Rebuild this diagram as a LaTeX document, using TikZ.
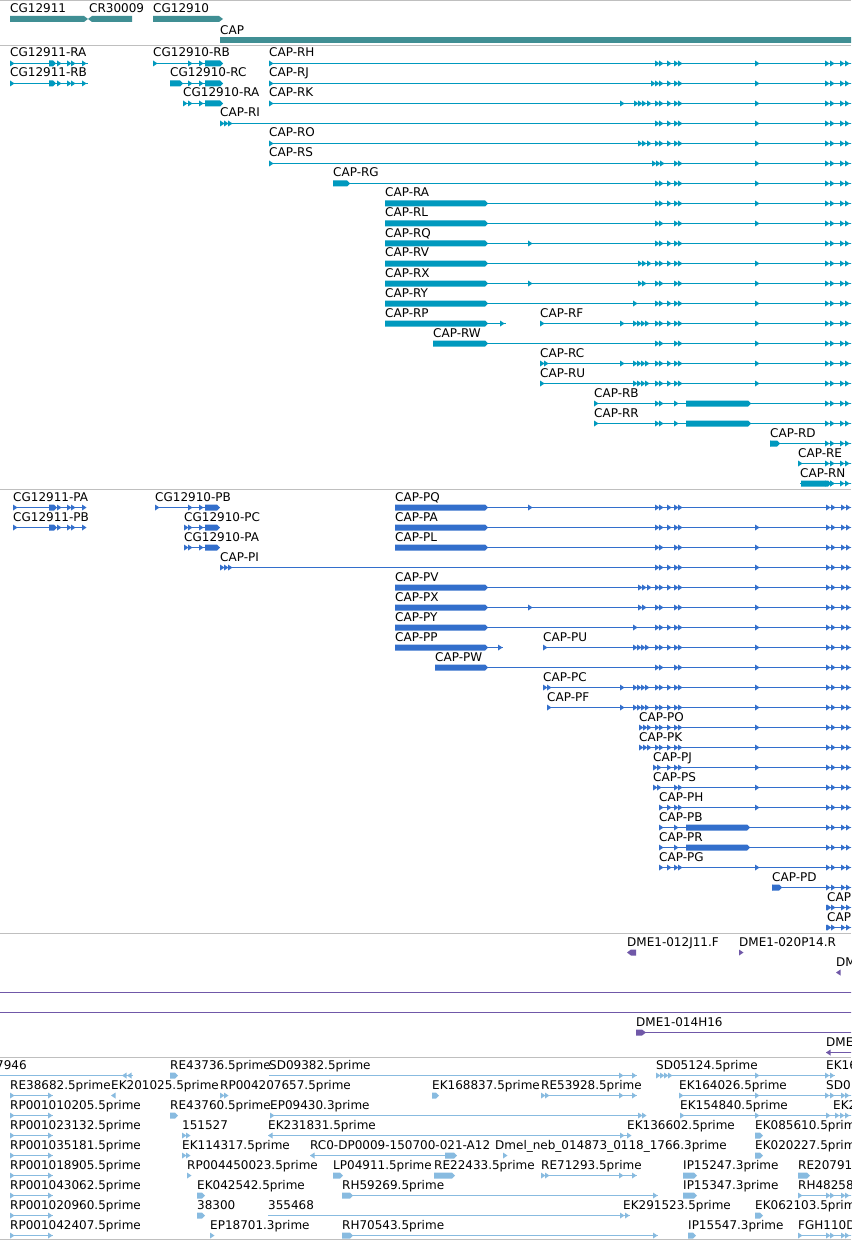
\documentclass[tikz,border=0pt]{standalone}
\usepackage{fontspec}
\setmainfont{DejaVu Sans}
\definecolor{genecol}{RGB}{64,143,148}
\definecolor{rcol}{RGB}{0,153,190}
\definecolor{pcol}{RGB}{51,111,204}
\definecolor{dmecol}{RGB}{112,88,168}
\definecolor{estcol}{RGB}{136,187,224}

\begin{document}
\begin{tikzpicture}[x=1pt,y=-1pt,
    lbl/.style={anchor=base west,inner sep=0pt,font=\fontsize{12}{14}\selectfont},
    track/.style={draw=gray!50,line width=1pt},
    fwd/.pic={\fill (0,-3) -- (4.5,0) -- (0,3) -- cycle;},
    rev/.pic={\fill (0,0) -- (4.5,-3) -- (4.5,3) -- cycle;}]
    \fill[white] (0,0) rectangle (851,1241);
    \clip (0,0) rectangle (851,1241);
    % Track borders
    \foreach \y in {0.5,45.5,489.5,933.5,1057.5,1239.5}
      \draw[track] (0,\y) -- (851,\y);
    % Genes
    \node[lbl] (g11) at (10,12.7) {CG12911};
    \node[lbl] (g09) at (89,12.7) {CR30009};
    \node[lbl] (g10) at (153,12.7) {CG12910};
    \node[lbl] (gcap) at (220,34.5) {CAP};
    \fill[genecol] (10,16) -- (84,16) -- (88,19) -- (84,22) -- (10,22) -- cycle;
    \fill[genecol] (88,19) -- (92,16) -- (132,16) -- (132,22) -- (92,22) -- cycle;
    \fill[genecol] (153,16) -- (219,16) -- (223,19) -- (219,22) -- (153,22) -- cycle;
    \fill[genecol] (220,37) rectangle (852,43);
    % RNA models
    \foreach \nm/\lab/\xs/\xe/\k/\mk in {
        r11RA/CG12911-RA/10/88/0/{10,57,67,71,82},
        r10RB/CG12910-RB/153/223/0/{153,188,199},
        rRH/CAP-RH/269/852/0/{269,655,659,667,674,678,755},
        r11RB/CG12911-RB/10/88/1/{10,57,67,71,82},
        r10RC/CG12910-RC/170/223/1/{188,199},
        rRJ/CAP-RJ/269/852/1/{269,651,655,659,667,674,678,755},
        r10RA/CG12910-RA/183/223/2/{183,188,199},
        rRK/CAP-RK/269/852/2/{269,620,634,638,642,647,655,659,667,674,678,755},
        rRI/CAP-RI/220/852/3/{220,224,228,655,659,667,674,678,755},
        rRO/CAP-RO/269/852/4/{269,638,642,647,655,659,667,674,678,755},
        rRS/CAP-RS/269/852/5/{269,652,656,660,674,678,755},
        rRG/CAP-RG/333/852/6/{655,659,667,674,678,755},
        rRA/CAP-RA/385/852/7/{655,659,667,674,678,755},
        rRL/CAP-RL/385/852/8/{655,659,674,678,755},
        rRQ/CAP-RQ/385/852/9/{528,655,659,667,674,678},
        rRV/CAP-RV/385/852/10/{638,642,647,655,659,667,674,678,755},
        rRX/CAP-RX/385/852/11/{528,638,642,655,659,674,678,755},
        rRY/CAP-RY/385/852/12/{633,655,659,667,674,678,755},
        rRP/CAP-RP/385/506/13/{500},
        rRF/CAP-RF/540/852/13/{540,620,633,637,641,645,655,659,667,674,678,755},
        rRW/CAP-RW/433/852/14/{655,659,674,678,755},
        rRC/CAP-RC/540/852/15/{540,544,620,633,637,641,645,655,659,667,674,678,755},
        rRU/CAP-RU/540/852/16/{540,633,637,641,645,655,659,667,674,678,755},
        rRB/CAP-RB/594/852/17/{594,655,659,674},
        rRR/CAP-RR/594/852/18/{594,655,659,674},
        rRD/CAP-RD/770/852/19/{770},
        rRE/CAP-RE/798/852/20/{798},
        rRN/CAP-RN/800/852/21/{830}} {
      \pgfmathsetmacro\y{63.5+20*\k}
      \node[lbl] (\nm) at (\xs,\y-6.5) {\lab};
      \draw[rcol,line width=1pt] (\xs,\y) -- (\xe,\y);
      \foreach \x in \mk \pic[rcol] at (\x,\y) {fwd};
    }
    \foreach \a/\b/\k in {49/56/0,49/56/1,205/223/0,170/183/1,205/223/1,205/223/2,
        333/350/6,385/488/7,385/488/8,385/488/9,385/488/10,385/488/11,385/488/12,
        385/488/13,433/488/14,686/751/17,686/751/18,770/780/19,801/831/21} {
      \pgfmathsetmacro\y{63.5+20*\k}
      \fill[rcol] (\a,\y-3) -- (\b-3,\y-3) -- (\b,\y) -- (\b-3,\y+3) -- (\a,\y+3) -- cycle;
    }
    % Protein models
    \foreach \nm/\lab/\xs/\xe/\k/\mk in {
        p11PA/CG12911-PA/13/86/0/{13,57,67,71,82},
        p10PB/CG12910-PB/155/220/0/{155,188,199},
        pPQ/CAP-PQ/395/852/0/{528,655,659,667,674,678},
        p11PB/CG12911-PB/13/86/1/{13,57,67,71,82},
        p10PC/CG12910-PC/184/220/1/{184,188,199},
        pPA/CAP-PA/395/852/1/{655,659,667,674,678,755},
        p10PA/CG12910-PA/184/220/2/{184,188,199},
        pPL/CAP-PL/395/852/2/{655,659,674,678,755},
        pPI/CAP-PI/220/852/3/{220,224,228,655,659,667,674,678,755},
        pPV/CAP-PV/395/852/4/{638,642,647,655,659,667,674,678,755},
        pPX/CAP-PX/395/852/5/{528,638,642,655,659,674,678,755},
        pPY/CAP-PY/395/852/6/{633,655,659,667,674,678,755},
        pPP/CAP-PP/395/503/7/{498},
        pPU/CAP-PU/543/852/7/{543,633,637,641,645,655,659,667,674,678,755},
        pPW/CAP-PW/435/852/8/{655,659,674,678,755},
        pPC/CAP-PC/543/852/9/{543,547,620,633,637,641,645,655,659,667,674,678,755},
        pPF/CAP-PF/547/852/10/{547,620,633,637,641,645,655,659,667,674,678,755},
        pPO/CAP-PO/639/852/11/{639,643,647,655,659,667,674,678,755},
        pPK/CAP-PK/639/852/12/{639,643,647,655,659,667,674,678,755},
        pPJ/CAP-PJ/653/852/13/{653,657,667,674,678,755},
        pPS/CAP-PS/653/852/14/{653,657,674,678,755},
        pPH/CAP-PH/659/852/15/{659,667,674,678,755},
        pPB/CAP-PB/659/852/16/{659,674},
        pPR/CAP-PR/659/852/17/{659,674},
        pPG/CAP-PG/659/852/18/{659,667,674,678,755},
        pPD/CAP-PD/772/852/19/{772},
        pC1/CAP/827/852/20/{827},
        pC2/CAP/827/852/21/{827}} {
      \pgfmathsetmacro\y{507.5+20*\k}
      \node[lbl] (\nm) at (\xs,\y-6.5) {\lab};
      \draw[pcol,line width=1pt] (\xs,\y) -- (\xe,\y);
      \foreach \x in \mk \pic[pcol] at (\x,\y) {fwd};
    }
    \foreach \a/\b/\k in {49/57/0,49/57/1,205/220/0,205/220/1,205/220/2,
        395/488/0,395/488/1,395/488/2,395/488/4,395/488/5,395/488/6,395/488/7,
        435/488/8,686/750/16,686/750/17,772/782/19} {
      \pgfmathsetmacro\y{507.5+20*\k}
      \fill[pcol] (\a,\y-3) -- (\b-3,\y-3) -- (\b,\y) -- (\b-3,\y+3) -- (\a,\y+3) -- cycle;
    }
    % Exon ends
    \foreach \k in {0,...,21}
      \foreach \x in {825,830,840,845} {
        \pic[rcol] at (\x,63.5+20*\k) {fwd};
        \pic[pcol] at (\x+1,507.5+20*\k) {fwd};
      }
    % BAC ends and clones
    \node[lbl] (dJ11) at (627,946) {DME1-012J11.F};
    \node[lbl] (dP14) at (739,946) {DME1-020P14.R};
    \node[lbl] (dDM) at (836,966) {DM};
    \fill[dmecol] (627,952.5) -- (631,949.5) -- (636,949.5) -- (636,955.5) -- (631,955.5) -- cycle;
    \pic[dmecol] at (739,952.5) {fwd};
    \pic[dmecol] at (836,972.5) {rev};
    \draw[dmecol,line width=1pt] (0,992.5) -- (852,992.5) (0,1012.5) -- (852,1012.5);
    \node[lbl] (dH16) at (636,1026) {DME1-014H16};
    \draw[dmecol,line width=1pt] (636,1032.5) -- (852,1032.5);
    \fill[dmecol] (636,1029.5) -- (642,1029.5) -- (646,1032.5) -- (642,1035.5) -- (636,1035.5) -- cycle;
    \node[lbl] (dDME) at (826,1046) {DME};
    \draw[dmecol,line width=1pt] (826,1052.5) -- (852,1052.5);
    \pic[dmecol] at (826,1052.5) {rev};
    % ESTs
    \foreach \nm/\lab/\xl/\k in {
        e7946/7946/-4/0, eRE43736/RE43736.5prime/170/0, eSD09382/SD09382.5prime/269/0,
        eSD05124/SD05124.5prime/656/0, eEK16/EK16/826/0,
        eRE38682/RE38682.5prime/10/1, eEK201025/EK201025.5prime/111/1,
        eRP004207657/RP004207657.5prime/220/1, eEK168837/EK168837.5prime/432/1,
        eRE53928/RE53928.5prime/541/1, eEK164026/EK164026.5prime/679/1, eSD0/SD0/826/1,
        eRP001010205/RP001010205.5prime/10/2, eRE43760/RE43760.5prime/170/2,
        eEP09430/EP09430.3prime/270/2, eEK154840/EK154840.5prime/680/2, eEK2/EK2/833/2,
        eRP001023132/RP001023132.5prime/10/3, e151527/151527/182/3,
        eEK231831/EK231831.5prime/268/3, eEK136602/EK136602.5prime/627/3,
        eEK085610/EK085610.5prime/755/3,
        eRP001035181/RP001035181.5prime/10/4, eEK114317/EK114317.5prime/182/4,
        eRC0/RC0-DP0009-150700-021-A12/310/4,
        eDmel/Dmel\_neb\_014873\_0118\_1766.3prime/495/4, eEK020227/EK020227.5prime/755/4,
        eRP001018905/RP001018905.5prime/10/5, eRP004450023/RP004450023.5prime/187/5,
        eLP04911/LP04911.5prime/333/5, eRE22433/RE22433.5prime/434/5,
        eRE71293/RE71293.5prime/541/5, eIP15247/IP15247.3prime/683/5, eRE20791/RE20791/798/5,
        eRP001043062/RP001043062.5prime/10/6, eEK042542/EK042542.5prime/197/6,
        eRH59269/RH59269.5prime/342/6, eIP15347/IP15347.3prime/683/6, eRH48258/RH48258/798/6,
        eRP001020960/RP001020960.5prime/10/7, e38300/38300/197/7, e355468/355468/268/7,
        eEK291523/EK291523.5prime/623/7, eEK062103/EK062103.5prime/755/7,
        eRP001042407/RP001042407.5prime/10/8, eEP18701/EP18701.3prime/210/8,
        eRH70543/RH70543.5prime/342/8, eIP15547/IP15547.3prime/688/8, eFGH110D/FGH110D/798/8} {
      \node[lbl] (\nm) at (\xl,1075.5+20*\k-6.5) {\lab};
    }
    \foreach \a/\b/\k in {0/133/0,269/637/0,656/835/0,10/53/1,541/637/1,679/852/1,
        10/53/2,270/645/2,680/852/2,10/53/3,268/627/3,10/53/4,310/457/4,10/53/5,
        541/637/5,10/53/6,342/658/6,798/852/6,10/53/7,268/630/7,10/53/8,342/658/8,798/852/8}
      \draw[estcol,line width=1pt] (\a,1075.5+20*\k) -- (\b,1075.5+20*\k);
    \foreach \x/\k in {619/0,632/0,656/0,660/0,664/0,668/0,755/0,825/0,830/0,
        10/1,48/1,220/1,224/1,541/1,545/1,619/1,632/1,679/1,755/1,825/1,830/1,841/1,845/1,
        10/2,48/2,270/2,638/2,642/2,680/2,755/2,826/2,835/2,840/2,845/2,
        10/3,48/3,182/3,186/3,620/3,627/3,
        10/4,48/4,182/4,186/4,503/4,
        10/5,48/5,187/5,541/5,545/5,619/5,632/5,
        10/6,48/6,653/6,798/6,826/6,830/6,841/6,845/6,
        10/7,48/7,620/7,625/7,
        10/8,48/8,210/8,653/8,798/8,826/8,830/8,841/8,845/8}
      \pic[estcol] at (\x,1075.5+20*\k) {fwd};
    \foreach \x/\k in {122/0,127/0,111/1,268/3,310/4}
      \pic[estcol] at (\x,1075.5+20*\k) {rev};
    \foreach \a/\b/\k in {170/178/0,432/439/1,170/178/2,755/763/3,445/457/4,755/763/4,
        333/343/5,434/455/5,683/697/5,798/810/5,197/205/6,342/353/6,683/697/6,
        197/205/7,755/763/7,342/353/8,688/696/8} {
      \pgfmathsetmacro\y{1075.5+20*\k}
      \fill[estcol] (\a,\y-3) -- (\b-3,\y-3) -- (\b,\y) -- (\b-3,\y+3) -- (\a,\y+3) -- cycle;
    }
\end{tikzpicture}
\end{document}
